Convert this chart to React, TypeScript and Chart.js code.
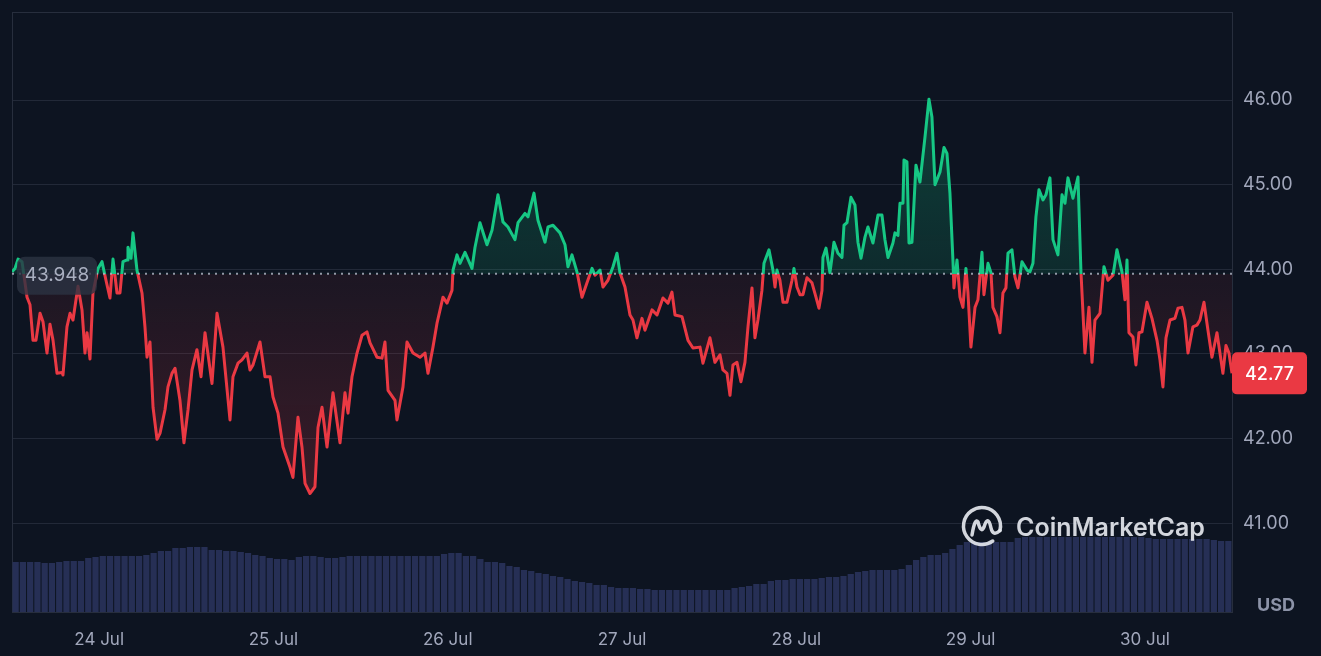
import React, { useEffect, useRef } from 'react';
import Chart from 'chart.js/auto';

const baseline = 43.948;
const yTicks = [41, 42, 43, 44, 45, 46];
const dayTicks = [12, 36, 60, 84, 108, 132, 156];
const dayLabels = ['24 Jul', '25 Jul', '26 Jul', '27 Jul', '28 Jul', '29 Jul', '30 Jul'];

// hours since 23 Jul 12:00
const hours = [
  0, 0.41, 0.83, 1.38, 2.07, 2.48, 2.89, 3.3, 3.86, 4.27, 4.82, 5.23, 5.65, 6.2, 6.89, 7.02,
  7.57, 7.99, 8.4, 9.09, 9.64, 10.05, 10.33, 10.74, 11.15, 11.84, 12.39, 12.94, 13.49, 13.91,
  14.46, 14.87, 15.28, 15.84, 15.97, 16.39, 16.66, 17.21, 17.9, 18.31, 18.59, 19.0, 19.42,
  19.97, 20.38, 21.07, 21.48, 22.03, 22.45, 23.13, 23.68, 24.24, 24.79, 25.47, 26.03, 26.58,
  27.54, 28.23, 29.05, 30.02, 30.43, 31.12, 31.67, 32.36, 32.77, 33.19, 34.15, 34.84, 35.53,
  35.94, 36.63, 37.32, 38.28, 38.69, 39.38, 39.93, 40.35, 41.03, 41.72, 42.14, 42.69, 43.38,
  44.2, 45.17, 45.85, 46.27, 46.82, 47.51, 48.2, 48.88, 49.3, 50.26, 50.95, 51.36, 51.78,
  52.74, 53.01, 53.84, 54.39, 55.22, 56.18, 56.87, 57.28, 57.97, 58.52, 59.35, 59.9, 60.59,
  60.73, 61.28, 61.69, 62.38, 63.34, 63.76, 64.44, 65.41, 66.1, 66.92, 67.61, 68.3, 69.26,
  69.68, 70.64, 71.05, 71.88, 72.43, 73.4, 73.81, 74.5, 75.46, 76.15, 76.56, 77.11, 77.8,
  78.49, 79.18, 79.87, 80.28, 80.97, 81.38, 82.07, 82.76, 83.31, 83.72, 84.41, 85.1, 85.51,
  86.06, 86.75, 87.16, 88.13, 88.82, 89.64, 90.33, 90.88, 91.3, 92.26, 93.09, 93.77, 94.74,
  95.15, 96.11, 96.8, 97.49, 97.9, 98.46, 98.87, 99.28, 99.83, 100.38, 100.93, 101.35, 101.9,
  102.31, 102.72, 103.27, 103.55, 104.24, 104.79, 105.07, 105.34, 105.75, 106.17, 106.72,
  107.41, 107.68, 108.09, 108.51, 108.92, 109.47, 110.16, 110.71, 111.12, 111.54, 111.67,
  112.09, 112.64, 113.19, 113.74, 114.29, 114.57, 114.98, 115.53, 116.08, 116.49, 116.91,
  117.46, 117.87, 118.56, 119.25, 119.8, 120.21, 120.63, 121.31, 121.59, 122.0, 122.28,
  122.69, 122.83, 123.24, 123.52, 123.93, 124.48, 125.03, 125.72, 126.27, 126.68, 127.1,
  127.79, 128.34, 128.75, 129.16, 129.58, 129.71, 130.13, 130.54, 130.95, 131.36, 131.64,
  132.05, 132.61, 133.02, 133.57, 133.84, 134.4, 134.81, 135.08, 135.63, 136.05, 136.46,
  136.87, 137.15, 137.7, 138.11, 138.53, 139.08, 139.77, 140.18, 140.59, 141.0, 141.42,
  141.97, 142.38, 142.93, 143.35, 144.03, 144.59, 145.0, 145.41, 146.1, 146.79, 147.2,
  147.75, 148.3, 148.72, 149.13, 149.82, 150.37, 150.92, 151.61, 152.16, 152.85, 153.26,
  153.54, 153.81, 154.36, 154.77, 155.19, 155.6, 156.29, 156.98, 157.67, 158.08, 158.49,
  158.91, 159.46, 160.14, 160.56, 161.11, 161.52, 161.94, 162.62, 163.17, 163.59, 164.14,
  164.69, 165.24, 165.93, 166.75, 167.17, 167.58, 168.0,
];

const prices = [
  43.97, 44.01, 44.12, 44.09, 43.67, 43.58, 43.16, 43.16, 43.48, 43.38, 43.01, 43.35, 43.16, 42.77, 42.78, 42.75,
  43.32, 43.48, 43.4, 43.8, 43.52, 43.01, 43.25, 42.94, 43.72, 44.01, 44.09, 43.87, 43.66, 44.12,
  43.72, 43.72, 44.09, 44.11, 44.26, 44.13, 44.43, 43.99, 43.72, 43.32, 42.96, 43.14, 42.37,
  41.99, 42.06, 42.34, 42.61, 42.77, 42.83, 42.45, 41.95, 42.34, 42.81, 43.05, 42.73, 43.25,
  42.65, 43.48, 43.08, 42.22, 42.73, 42.89, 42.93, 43.01, 42.81, 42.87, 43.14, 42.73, 42.73,
  42.49, 42.3, 41.9, 41.66, 41.54, 42.25, 41.9, 41.47, 41.35, 41.43, 42.13, 42.37, 41.9,
  42.54, 41.95, 42.54, 42.3, 42.73, 43.01, 43.22, 43.26, 43.13, 42.96, 42.95, 43.14, 42.57,
  42.45, 42.22, 42.61, 43.14, 43.01, 42.96, 43.01, 42.77, 43.08, 43.36, 43.67, 43.6, 43.75,
  43.99, 44.17, 44.07, 44.2, 44.01, 44.26, 44.55, 44.29, 44.46, 44.88, 44.56, 44.5, 44.35,
  44.55, 44.66, 44.62, 44.9, 44.58, 44.32, 44.5, 44.52, 44.43, 44.29, 44.03, 44.17, 43.97,
  43.67, 43.84, 44.01, 43.93, 43.99, 43.79, 43.87, 44.03, 44.19, 43.96, 43.79, 43.46, 43.4,
  43.19, 43.42, 43.28, 43.52, 43.46, 43.66, 43.6, 43.73, 43.46, 43.44, 43.16, 43.07, 43.08,
  42.89, 43.19, 42.9, 42.99, 42.81, 42.77, 42.51, 42.87, 42.9, 42.67, 42.9, 43.32, 43.78,
  43.19, 43.4, 43.75, 44.07, 44.23, 43.99, 43.79, 43.99, 43.87, 43.61, 43.61,
  43.87, 44.01, 43.79, 43.7, 43.7, 43.9, 43.84, 43.67, 43.54, 43.75, 44.14,
  44.25, 43.96, 44.32, 44.19, 44.14, 44.52, 44.55, 44.85, 44.76, 44.32, 44.13,
  44.38, 44.5, 44.31, 44.64, 44.64, 44.35, 44.14, 44.31, 44.43, 44.4, 44.78,
  44.78, 45.29, 45.27, 44.31, 44.32, 45.23, 45.03, 45.56, 46.01, 45.8, 45.0,
  45.15, 45.44, 45.37, 44.9, 44.09, 43.78, 44.11, 43.67, 43.55, 44.01, 43.72,
  43.08, 43.55, 43.64, 44.2, 43.7, 44.07, 43.96, 43.55, 43.44, 43.25, 43.72,
  43.78, 44.19, 44.23, 43.91, 43.78, 44.09, 43.99, 43.97, 44.07, 44.62, 44.94,
  44.82, 44.88, 45.08, 44.35, 44.17, 44.88, 44.78, 45.08, 44.84, 45.09, 43.97,
  43.01, 43.55, 42.9, 43.4, 43.48, 44.03, 43.87, 43.93, 44.23, 43.97, 43.64,
  44.11, 43.25, 43.2, 42.87, 43.25, 43.26, 43.61, 43.42, 43.16, 42.93, 42.61,
  43.19, 43.4, 43.42, 43.54, 43.55, 43.4, 43.01, 43.32, 43.34, 43.4, 43.61,
  43.28, 42.96, 43.25, 42.77, 43.1, 43.01, 42.77,
];

// hourly volume (relative)
const volume = [
  50, 50, 50, 50, 49, 49, 50, 51, 51, 51, 54, 55,
  56, 56, 56, 56, 56, 56, 57, 59, 61, 61, 64, 64,
  65, 65, 65, 62, 62, 61, 61, 60, 59, 57, 56, 54,
  53, 53, 52, 55, 56, 56, 55, 54, 54, 55, 56, 56,
  56, 56, 56, 56, 56, 56, 56, 56, 56, 56, 56, 58,
  59, 59, 56, 56, 53, 50, 50, 49, 46, 45, 42, 41,
  39, 38, 36, 35, 33, 31, 30, 29, 27, 27, 25, 24,
  24, 24, 23, 23, 22, 22, 22, 22, 22, 22, 22, 22,
  22, 22, 22, 24, 25, 26, 28, 28, 31, 32, 32, 33,
  33, 33, 33, 34, 35, 35, 36, 38, 40, 41, 42, 42,
  42, 42, 43, 47, 52, 55, 57, 57, 59, 63, 67, 70,
  70, 70, 70, 70, 70, 70, 74, 75, 75, 75, 75, 75,
  75, 75, 75, 75, 75, 75, 75, 75, 75, 75, 75, 75,
  74, 73, 73, 73, 73, 73, 73, 73, 73, 72, 71, 71,
];

const GREEN = '#16c784';
const RED = '#ea3943';
const BG = '#0d1421';
const TEXT = '#a1a7bb';
const GRID = '#222938';

function baselineFraction(chart: any) {
  const { chartArea, scales } = chart;
  const yb = scales.y.getPixelForValue(baseline);
  const f = (yb - chartArea.top) / (chartArea.bottom - chartArea.top);
  return Math.min(1, Math.max(0, f));
}

const overlays = {
  id: 'overlays',
  beforeDatasetsDraw(chart: any) {
    const { ctx, chartArea } = chart;
    ctx.save();
    ctx.strokeStyle = '#272e3d';
    ctx.lineWidth = 1;
    ctx.strokeRect(chartArea.left + 0.5, chartArea.top + 0.5, chartArea.right - chartArea.left, chartArea.bottom - chartArea.top);
    ctx.restore();
  },
  afterDatasetsDraw(chart: any) {
    const { ctx, chartArea, scales } = chart;
    const yb = scales.y.getPixelForValue(baseline);
    ctx.save();
    // dotted reference line
    ctx.strokeStyle = 'rgba(170,176,190,0.85)';
    ctx.lineWidth = 2;
    ctx.setLineDash([2, 5]);
    ctx.beginPath();
    ctx.moveTo(chartArea.left, yb);
    ctx.lineTo(chartArea.right, yb);
    ctx.stroke();
    ctx.setLineDash([]);

    // watermark
    const cx = chartArea.right - 250;
    const cy = chartArea.bottom - 86;
    ctx.strokeStyle = 'rgba(228,231,238,0.92)';
    ctx.lineWidth = 3.5;
    ctx.lineCap = 'round';
    ctx.lineJoin = 'round';
    ctx.beginPath();
    ctx.arc(cx, cy, 18.5, 0.95, Math.PI * 2 + 0.25);
    ctx.stroke();
    ctx.beginPath();
    ctx.moveTo(cx - 10, cy + 9);
    ctx.quadraticCurveTo(cx - 7, cy - 9, cx - 4, cy - 4);
    ctx.quadraticCurveTo(cx - 1, cy + 8, cx + 2, cy + 1);
    ctx.quadraticCurveTo(cx + 6, cy - 12, cx + 9, cy + 2);
    ctx.quadraticCurveTo(cx + 11, cy + 11, cx + 18, cy + 4.5);
    ctx.stroke();
    ctx.fillStyle = 'rgba(228,231,238,0.92)';
    ctx.font = '600 25px Inter';
    const w = ctx.measureText('CoinMarketCap').width;
    const size = 25 * 189 / w;
    ctx.font = `600 ${size.toFixed(1)}px Inter`;
    ctx.textAlign = 'left';
    ctx.textBaseline = 'middle';
    ctx.fillText('CoinMarketCap', cx + 34, cy + 2);
    ctx.restore();
  },
  afterDraw(chart: any) {
    const { ctx, chartArea, scales } = chart;
    const yb = scales.y.getPixelForValue(baseline);
    ctx.save();
    // baseline label
    ctx.fillStyle = 'rgba(44,51,66,0.8)';
    ctx.beginPath();
    ctx.roundRect(chartArea.left + 5, yb - 17, 80, 38, 8);
    ctx.fill();
    ctx.fillStyle = '#a9afc0';
    ctx.font = '19px Inter';
    ctx.textAlign = 'center';
    ctx.textBaseline = 'middle';
    ctx.fillText(baseline.toFixed(3), chartArea.left + 45, yb + 2);

    // last price badge
    const last = prices[prices.length - 1];
    const yl = scales.y.getPixelForValue(last);
    ctx.fillStyle = RED;
    ctx.beginPath();
    ctx.roundRect(chartArea.right, yl - 21, 75, 42, 5);
    ctx.fill();
    ctx.fillStyle = '#ffffff';
    ctx.font = '500 18px Inter';
    ctx.fillText(last.toFixed(2), chartArea.right + 37.5, yl + 1);

    // currency
    ctx.fillStyle = '#8c93a8';
    ctx.font = '700 18px Inter';
    ctx.fillText('USD', chartArea.right + 44, chartArea.bottom - 6);
    ctx.restore();
  },
};

const App: React.FC = () => {
  const chartRef = useRef<HTMLCanvasElement>(null);
  const chartInstance = useRef<Chart | null>(null);

  useEffect(() => {
    if (!chartRef.current) return;
    if (chartInstance.current) {
      chartInstance.current.destroy();
    }
    const ctx = chartRef.current.getContext('2d');
    if (!ctx) return;

    chartInstance.current = new Chart(ctx, {
      type: 'line',
      data: {
        datasets: [
          {
            type: 'line',
            data: hours.map((h, i) => ({ x: h, y: prices[i] })),
            yAxisID: 'y',
            order: 0,
            borderWidth: 3,
            tension: 0,
            pointRadius: 0,
            borderJoinStyle: 'round',
            borderColor: (c: any) => {
              const chart = c.chart;
              if (!chart.chartArea) return RED;
              const { chartArea } = chart;
              const f = baselineFraction(chart);
              const g = chart.ctx.createLinearGradient(0, chartArea.top, 0, chartArea.bottom);
              g.addColorStop(0, GREEN);
              g.addColorStop(f, GREEN);
              g.addColorStop(f, RED);
              g.addColorStop(1, RED);
              return g;
            },
            backgroundColor: (c: any) => {
              const chart = c.chart;
              if (!chart.chartArea) return 'transparent';
              const { chartArea } = chart;
              const f = baselineFraction(chart);
              const g = chart.ctx.createLinearGradient(0, chartArea.top, 0, chartArea.bottom);
              g.addColorStop(0, 'rgba(22,199,132,0.30)');
              g.addColorStop(f, 'rgba(22,199,132,0.13)');
              g.addColorStop(f, 'rgba(234,57,67,0.07)');
              g.addColorStop(1, 'rgba(234,57,67,0.28)');
              return g;
            },
            fill: { value: baseline },
          } as any,
          {
            type: 'bar',
            data: volume.map((v, i) => ({ x: i + 0.5, y: v })),
            yAxisID: 'y2',
            order: 1,
            backgroundColor: '#262f55',
            barPercentage: 0.86,
            categoryPercentage: 1,
          } as any,
        ],
      },
      options: {
        animation: false,
        responsive: true,
        maintainAspectRatio: false,
        layout: { padding: { top: 12, left: 12, right: 0, bottom: 0 } },
        plugins: {
          legend: { display: false },
          tooltip: { enabled: false },
        },
        scales: {
          x: {
            type: 'linear',
            min: 0,
            max: 168,
            offset: false,
            grid: { display: false, drawTicks: false },
            border: { display: false },
            afterBuildTicks: (scale: any) => {
              scale.ticks = dayTicks.map((value) => ({ value }));
            },
            afterFit: (scale: any) => {
              scale.height = 44;
              scale.paddingLeft = 0;
              scale.paddingRight = 0;
            },
            ticks: {
              autoSkip: false,
              maxRotation: 0,
              padding: 18,
              color: TEXT,
              font: { family: 'Inter', size: 17 },
              callback: (value: any) => dayLabels[dayTicks.indexOf(Number(value))] ?? '',
            },
          },
          y: {
            type: 'linear',
            position: 'right',
            min: 39.95,
            max: 47.04,
            grid: { color: GRID, drawTicks: false },
            border: { display: false },
            afterBuildTicks: (scale: any) => {
              scale.ticks = yTicks.map((value) => ({ value }));
            },
            afterFit: (scale: any) => {
              scale.width = 89;
              scale.paddingTop = 0;
              scale.paddingBottom = 0;
            },
            ticks: {
              padding: 11,
              color: TEXT,
              font: { family: 'Inter', size: 18 },
              callback: (value: any) => Number(value).toFixed(2),
            },
          },
          y2: {
            type: 'linear',
            display: false,
            min: 0,
            max: 600,
          },
        },
      },
      plugins: [overlays],
    });

    return () => {
      if (chartInstance.current) {
        chartInstance.current.destroy();
        chartInstance.current = null;
      }
    };
  }, []);

  return (
    <div style={{ position: 'fixed', left: 0, top: 0, width: '100vw', height: '100vh', background: BG }}>
      <canvas ref={chartRef}></canvas>
    </div>
  );
};

export default App;
